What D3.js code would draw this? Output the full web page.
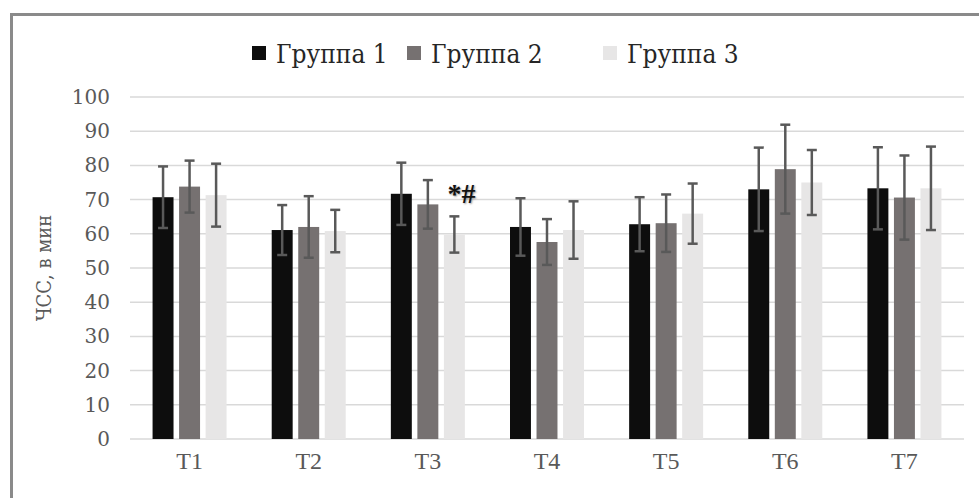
<!DOCTYPE html>
<html><head><meta charset="utf-8">
<script src="https://cdn.jsdelivr.net/npm/d3@7"></script>
<style>body{margin:0;background:#fff}svg{display:block}</style>
</head><body>
<script>
const categories = ["T1","T2","T3","T4","T5","T6","T7"];
const groups = ["Группа 1","Группа 2","Группа 3"];
const g1 = [70.7, 61.1, 71.7, 62.0, 62.8, 73.0, 73.3];
const g2 = [73.8, 62.0, 68.6, 57.6, 63.1, 78.9, 70.6];
const g3 = [71.3, 60.8, 59.8, 61.1, 65.9, 75.0, 73.3];
const e1 = [9.0, 7.3, 9.1, 8.4, 7.9, 12.2, 12.0];
const e2 = [7.6, 9.0, 7.1, 6.7, 8.4, 13.0, 12.3];
const e3 = [9.2, 6.2, 5.3, 8.4, 8.8, 9.5, 12.2];
const yTicks = [0,10,20,30,40,50,60,70,80,90,100];
const annotation = {category:"T3", group:"Группа 3", text:"*#"};
const colors = ["#0d0d0d","#767171","#e7e6e6"];

const SERIF = "'Liberation Serif','Times New Roman',Times,serif";
const CYR = "'DejaVu Serif Condensed','DejaVu Serif',serif";
const W = 979, H = 498;
const svg = d3.select("body").append("svg").attr("width", W).attr("height", H);

// frame
svg.append("path").attr("d", `M11.5,${H+5} V14.5 H${W+5}`)
  .attr("fill","none").attr("stroke","#8a8a8a").attr("stroke-width",3);

const x0 = d3.scaleBand().domain(categories).range([130, 964]);
const groupSpan = 74;
const x1 = d3.scaleBand().domain(groups)
  .range([x0.bandwidth()/2 - groupSpan/2, x0.bandwidth()/2 + groupSpan/2]).paddingInner(0.21);
const y = d3.scaleLinear().domain([0,100]).range([439, 97]);

// grid
svg.append("g").selectAll("line").data(yTicks).join("line")
  .attr("x1",130).attr("x2",964).attr("y1",d=>y(d)).attr("y2",d=>y(d))
  .attr("stroke","#d9d9d9").attr("stroke-width",1.5);

// y axis labels
const yAxis = d3.axisLeft(y).tickValues(yTicks).tickSize(0).tickPadding(0);
const ya = svg.append("g").attr("transform","translate(110,0)").call(yAxis);
ya.select(".domain").remove();
ya.selectAll("text").attr("font-family","DejaVu Serif").attr("font-size",20).attr("fill","#595959");

// x axis labels
const xAxis = d3.axisBottom(x0).tickSize(0).tickPadding(0);
const xa = svg.append("g").attr("transform","translate(0,452)").call(xAxis);
xa.select(".domain").remove();
xa.selectAll("text").attr("font-family",SERIF).attr("font-size",24).attr("fill","#595959");

// y title
svg.append("text").attr("transform","translate(44,268) rotate(-90)")
  .attr("text-anchor","middle").attr("dominant-baseline","central")
  .attr("font-family",CYR).attr("font-size",20).attr("fill","#595959")
  .text("ЧСС, в мин");

const series = [g1,g2,g3], errs = [e1,e2,e3];
const data = [];
categories.forEach((c,i)=>groups.forEach((g,j)=>data.push({c,g,j,v:series[j][i],e:errs[j][i]})));

const gb = svg.append("g");
gb.selectAll("rect").data(data).join("rect")
  .attr("x",d=>x0(d.c)+x1(d.g)).attr("width",x1.bandwidth())
  .attr("y",d=>y(d.v)).attr("height",d=>y(0)-y(d.v))
  .attr("fill",d=>colors[d.j]);

// error bars
const eb = svg.append("g").attr("stroke","#595959").attr("stroke-width",2.5);
const cx = d=>x0(d.c)+x1(d.g)+x1.bandwidth()/2;
eb.selectAll("line.v").data(data).join("line").attr("class","v")
  .attr("x1",cx).attr("x2",cx).attr("y1",d=>y(d.v+d.e)).attr("y2",d=>y(d.v-d.e));
eb.selectAll("line.t").data(data).join("line").attr("class","t")
  .attr("x1",d=>cx(d)-5).attr("x2",d=>cx(d)+5).attr("y1",d=>y(d.v+d.e)).attr("y2",d=>y(d.v+d.e));
eb.selectAll("line.b").data(data).join("line").attr("class","b")
  .attr("x1",d=>cx(d)-5).attr("x2",d=>cx(d)+5).attr("y1",d=>y(d.v-d.e)).attr("y2",d=>y(d.v-d.e));

// annotation
const ad = data.find(d=>d.c===annotation.category && d.g===annotation.group);
svg.append("text").attr("x",cx(ad)+7).attr("y",y(ad.v+ad.e)-13)
  .attr("text-anchor","middle").attr("font-family",SERIF).attr("font-weight","bold")
  .attr("font-size",28).attr("fill","#111").attr("style","text-shadow:1px 1px 2px #999")
  .text(annotation.text);

// legend
const legendX = [252, 407, 603];
const lg = svg.append("g");
groups.forEach((g,j)=>{
  lg.append("rect").attr("x",legendX[j]).attr("y",46).attr("width",14).attr("height",14).attr("fill",colors[j]);
  lg.append("text").attr("x",legendX[j]+24).attr("y",54).attr("dominant-baseline","central")
    .attr("font-family",CYR).attr("font-size",26).attr("fill","#262626").text(g);
});
</script>
</body></html>
